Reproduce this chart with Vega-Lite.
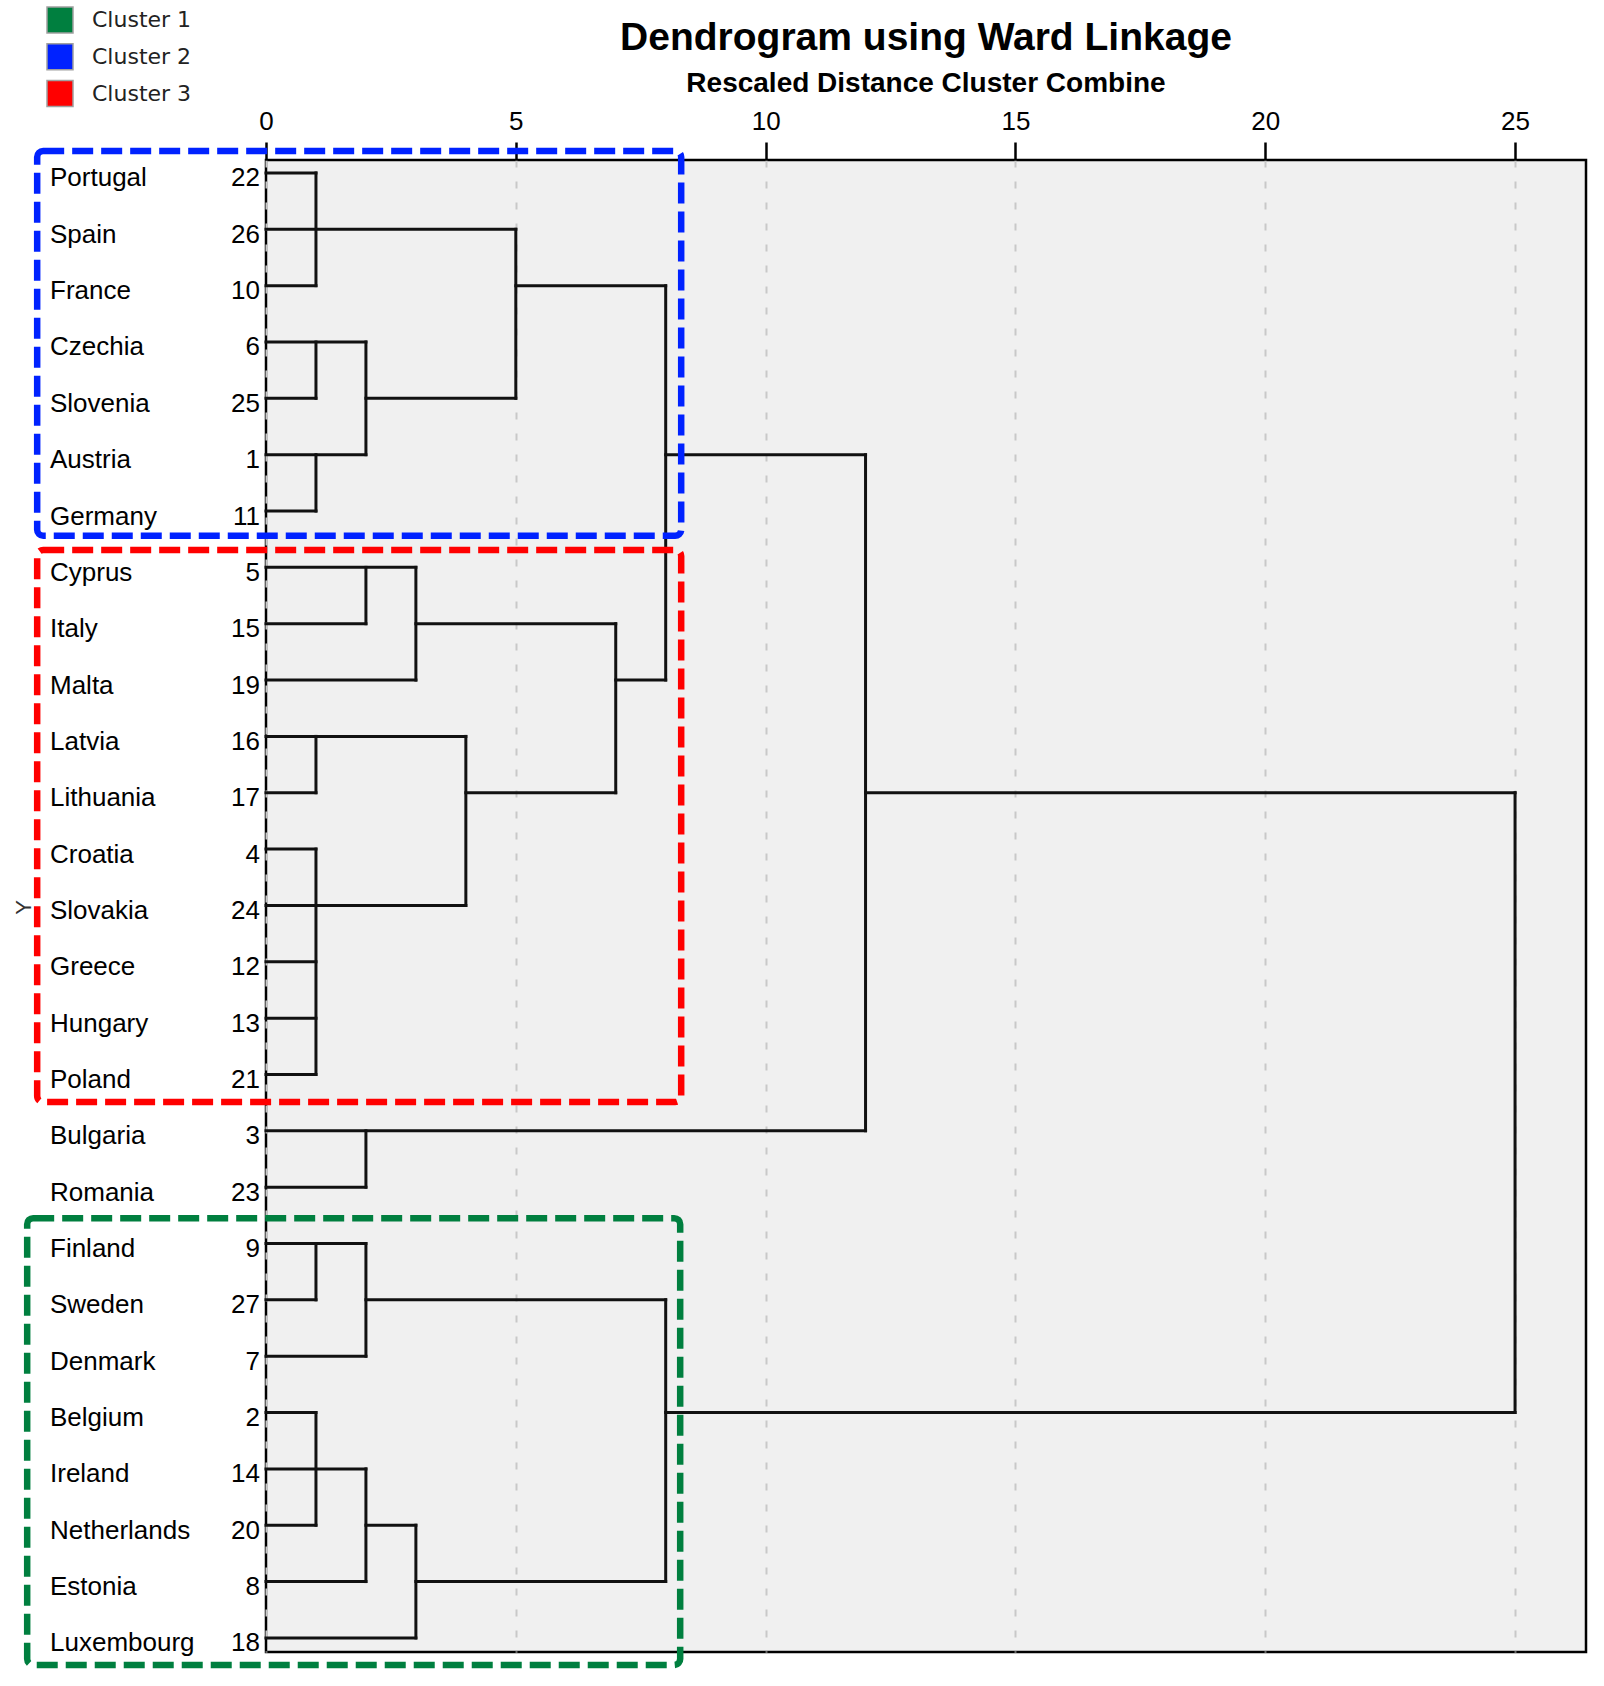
{
  "$schema": "https://vega.github.io/schema/vega-lite/v6.json",
  "width": 1320,
  "height": 1492,
  "autosize": {"type": "none"},
  "padding": {"left": 266, "top": 160, "right": 18, "bottom": 34},
  "background": "white",
  "title": {
    "text": "Dendrogram using Ward Linkage",
    "subtitle": "Rescaled Distance Cluster Combine",
    "font": "Liberation Sans",
    "fontSize": 39,
    "fontWeight": "bold",
    "color": "#000",
    "subtitleFont": "Liberation Sans",
    "subtitleFontSize": 28,
    "subtitleFontWeight": "bold",
    "subtitleColor": "#000",
    "subtitlePadding": 12,
    "anchor": "middle",
    "offset": -92
  },
  "datasets": {
    "leaves": [
      {"idx": 0, "name": "Portugal", "num": "22"},
      {"idx": 1, "name": "Spain", "num": "26"},
      {"idx": 2, "name": "France", "num": "10"},
      {"idx": 3, "name": "Czechia", "num": "6"},
      {"idx": 4, "name": "Slovenia", "num": "25"},
      {"idx": 5, "name": "Austria", "num": "1"},
      {"idx": 6, "name": "Germany", "num": "11"},
      {"idx": 7, "name": "Cyprus", "num": "5"},
      {"idx": 8, "name": "Italy", "num": "15"},
      {"idx": 9, "name": "Malta", "num": "19"},
      {"idx": 10, "name": "Latvia", "num": "16"},
      {"idx": 11, "name": "Lithuania", "num": "17"},
      {"idx": 12, "name": "Croatia", "num": "4"},
      {"idx": 13, "name": "Slovakia", "num": "24"},
      {"idx": 14, "name": "Greece", "num": "12"},
      {"idx": 15, "name": "Hungary", "num": "13"},
      {"idx": 16, "name": "Poland", "num": "21"},
      {"idx": 17, "name": "Bulgaria", "num": "3"},
      {"idx": 18, "name": "Romania", "num": "23"},
      {"idx": 19, "name": "Finland", "num": "9"},
      {"idx": 20, "name": "Sweden", "num": "27"},
      {"idx": 21, "name": "Denmark", "num": "7"},
      {"idx": 22, "name": "Belgium", "num": "2"},
      {"idx": 23, "name": "Ireland", "num": "14"},
      {"idx": 24, "name": "Netherlands", "num": "20"},
      {"idx": 25, "name": "Estonia", "num": "8"},
      {"idx": 26, "name": "Luxembourg", "num": "18"}
    ],
    "segments": [
      {"x": 0, "x2": 1, "y": 0, "y2": 0},
      {"x": 0, "x2": 5, "y": 1, "y2": 1},
      {"x": 0, "x2": 1, "y": 2, "y2": 2},
      {"x": 1, "x2": 1, "y": 0, "y2": 2},
      {"x": 0, "x2": 2, "y": 3, "y2": 3},
      {"x": 0, "x2": 1, "y": 4, "y2": 4},
      {"x": 1, "x2": 1, "y": 3, "y2": 4},
      {"x": 0, "x2": 2, "y": 5, "y2": 5},
      {"x": 0, "x2": 1, "y": 6, "y2": 6},
      {"x": 1, "x2": 1, "y": 5, "y2": 6},
      {"x": 2, "x2": 2, "y": 3, "y2": 5},
      {"x": 2, "x2": 5, "y": 4, "y2": 4},
      {"x": 5, "x2": 5, "y": 1, "y2": 4},
      {"x": 5, "x2": 8, "y": 2, "y2": 2},
      {"x": 0, "x2": 3, "y": 7, "y2": 7},
      {"x": 0, "x2": 2, "y": 8, "y2": 8},
      {"x": 2, "x2": 2, "y": 7, "y2": 8},
      {"x": 0, "x2": 3, "y": 9, "y2": 9},
      {"x": 3, "x2": 3, "y": 7, "y2": 9},
      {"x": 3, "x2": 7, "y": 8, "y2": 8},
      {"x": 0, "x2": 4, "y": 10, "y2": 10},
      {"x": 0, "x2": 1, "y": 11, "y2": 11},
      {"x": 1, "x2": 1, "y": 10, "y2": 11},
      {"x": 0, "x2": 1, "y": 12, "y2": 12},
      {"x": 0, "x2": 4, "y": 13, "y2": 13},
      {"x": 0, "x2": 1, "y": 14, "y2": 14},
      {"x": 0, "x2": 1, "y": 15, "y2": 15},
      {"x": 0, "x2": 1, "y": 16, "y2": 16},
      {"x": 1, "x2": 1, "y": 12, "y2": 16},
      {"x": 4, "x2": 4, "y": 10, "y2": 13},
      {"x": 4, "x2": 7, "y": 11, "y2": 11},
      {"x": 7, "x2": 7, "y": 8, "y2": 11},
      {"x": 7, "x2": 8, "y": 9, "y2": 9},
      {"x": 8, "x2": 8, "y": 2, "y2": 9},
      {"x": 8, "x2": 12, "y": 5, "y2": 5},
      {"x": 0, "x2": 12, "y": 17, "y2": 17},
      {"x": 0, "x2": 2, "y": 18, "y2": 18},
      {"x": 2, "x2": 2, "y": 17, "y2": 18},
      {"x": 12, "x2": 12, "y": 5, "y2": 17},
      {"x": 12, "x2": 25, "y": 11, "y2": 11},
      {"x": 0, "x2": 2, "y": 19, "y2": 19},
      {"x": 0, "x2": 1, "y": 20, "y2": 20},
      {"x": 1, "x2": 1, "y": 19, "y2": 20},
      {"x": 0, "x2": 2, "y": 21, "y2": 21},
      {"x": 2, "x2": 2, "y": 19, "y2": 21},
      {"x": 2, "x2": 8, "y": 20, "y2": 20},
      {"x": 0, "x2": 1, "y": 22, "y2": 22},
      {"x": 0, "x2": 2, "y": 23, "y2": 23},
      {"x": 0, "x2": 1, "y": 24, "y2": 24},
      {"x": 1, "x2": 1, "y": 22, "y2": 24},
      {"x": 0, "x2": 2, "y": 25, "y2": 25},
      {"x": 2, "x2": 2, "y": 23, "y2": 25},
      {"x": 2, "x2": 3, "y": 24, "y2": 24},
      {"x": 0, "x2": 3, "y": 26, "y2": 26},
      {"x": 3, "x2": 3, "y": 24, "y2": 26},
      {"x": 3, "x2": 8, "y": 25, "y2": 25},
      {"x": 8, "x2": 8, "y": 20, "y2": 25},
      {"x": 8, "x2": 25, "y": 22, "y2": 22},
      {"x": 25, "x2": 25, "y": 11, "y2": 22}
    ],
    "clusters": [
      {"cluster": "Cluster 1", "x": -4.78, "x2": 8.29, "y": 18.55, "y2": 26.48},
      {"cluster": "Cluster 2", "x": -4.58, "x2": 8.31, "y": -0.39, "y2": 6.44},
      {"cluster": "Cluster 3", "x": -4.58, "x2": 8.31, "y": 6.69, "y2": 16.49}
    ]
  },
  "layer": [
    {
      "data": {"name": "segments"},
      "mark": {"type": "rule", "color": "#111", "strokeWidth": 3, "strokeCap": "square"},
      "encoding": {
        "x": {
          "field": "x", "type": "quantitative",
          "scale": {"domain": [0, 26.42], "nice": false, "zero": false},
          "axis": {
            "orient": "top", "values": [0, 5, 10, 15, 20, 25], "title": null,
            "domain": false, "labelFont": "Liberation Sans", "labelFontSize": 26, "labelColor": "#000",
            "labelPadding": 8, "labelFlush": false, "tickColor": "#000", "tickWidth": 2.5, "tickSize": 18,
            "grid": true, "gridColor": "#c8c8c8", "gridDash": [7, 14], "gridWidth": 2
          }
        },
        "x2": {"field": "x2"},
        "y": {
          "field": "y", "type": "quantitative",
          "scale": {"domain": [-0.23, 26.25], "nice": false, "zero": false, "reverse": true},
          "axis": {
            "orient": "left", "labels": false, "ticks": false, "domain": false, "grid": false,
            "title": "Y", "titleFont": "Liberation Sans", "titleFontSize": 22, "titleFontWeight": "normal",
            "titleColor": "#333", "titleX": -243, "titleY": 747, "titleAlign": "center", "titleBaseline": "middle"
          }
        },
        "y2": {"field": "y2"}
      }
    },
    {
      "data": {"name": "clusters"},
      "mark": {"type": "rect", "fill": "transparent", "strokeWidth": 6.5, "strokeDash": [21, 8], "cornerRadius": 6},
      "encoding": {
        "x": {"field": "x", "type": "quantitative"},
        "x2": {"field": "x2"},
        "y": {"field": "y", "type": "quantitative"},
        "y2": {"field": "y2"},
        "stroke": {
          "field": "cluster", "type": "nominal",
          "scale": {"domain": ["Cluster 3", "Cluster 2", "Cluster 1"], "range": ["#ff0000", "#0022ff", "#007f3f"]},
          "legend": null
        }
      }
    },
    {
      "data": {"name": "leaves"},
      "mark": {"type": "text", "align": "left", "baseline": "alphabetic", "dx": -216, "dy": 13.5, "font": "Liberation Sans", "fontSize": 26, "color": "#000"},
      "encoding": {
        "x": {"datum": 0, "type": "quantitative"},
        "y": {"field": "idx", "type": "quantitative"},
        "text": {"field": "name"}
      }
    },
    {
      "data": {"name": "leaves"},
      "mark": {"type": "text", "align": "right", "baseline": "alphabetic", "dx": -6, "dy": 13.5, "font": "Liberation Sans", "fontSize": 26, "color": "#000"},
      "encoding": {
        "x": {"datum": 0, "type": "quantitative"},
        "y": {"field": "idx", "type": "quantitative"},
        "text": {"field": "num"}
      }
    },
    {
      "data": {"name": "clusters"},
      "mark": {"type": "square", "opacity": 0, "size": 10},
      "encoding": {
        "x": {"field": "x", "type": "quantitative"},
        "y": {"field": "y", "type": "quantitative"},
        "fill": {
          "field": "cluster", "type": "nominal",
          "scale": {"domain": ["Cluster 1", "Cluster 2", "Cluster 3"], "range": ["#007f3f", "#0022ff", "#ff0000"]},
          "legend": {
            "orient": "none", "legendX": -220, "legendY": -154, "title": null, "padding": 0,
            "symbolType": "square", "symbolSize": 676, "symbolOpacity": 1,
            "symbolStrokeColor": "#a0a0a0", "symbolStrokeWidth": 1.5,
            "labelFont": "DejaVu Sans", "labelFontSize": 22, "labelColor": "#222", "labelOffset": 18,
            "rowPadding": 4.8
          }
        }
      }
    }
  ],
  "config": {
    "view": {"fill": "#f0f0f0", "stroke": "#000", "strokeWidth": 2.5},
    "font": "Liberation Sans"
  }
}
